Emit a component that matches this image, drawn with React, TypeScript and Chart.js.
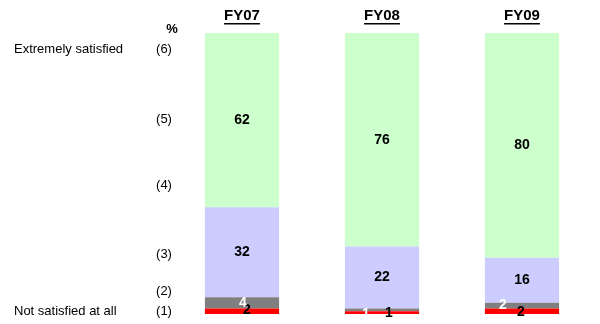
import React, { useEffect, useRef } from "react";
import { Chart, registerables } from "chart.js";

Chart.register(...registerables);

const categories = ["FY07", "FY08", "FY09"];
const notSatisfied = [2, 1, 2];
const lowSatisfied = [4, 1, 2];
const midSatisfied = [32, 22, 16];
const highSatisfied = [62, 76, 80];

const scaleLabels = ["(6)", "(5)", "(4)", "(3)", "(2)", "(1)"];
const scaleLabelValues = [94, 69.3, 45.6, 21.3, 8, 1];
const sideLabels = ["Extremely satisfied", "Not satisfied at all"];
const sideLabelValues = [94, 1];

// label offsets (pixels) for the tiny bottom segments
const grayDx = [1, -16, -19];
const grayDy = [0, 4, 0];
const redDx = [5, 7, -1];
const redDy = [-1, 1, 1];

const labelPlugin = {
  id: "labels",
  afterDraw(chart: any) {
    const ctx = chart.ctx;
    const y = chart.scales.y;
    const x = chart.scales.x;
    ctx.save();
    ctx.textBaseline = "middle";
    ctx.fillStyle = "#000";
    ctx.font = "13px 'Liberation Sans', Arial, sans-serif";
    ctx.textAlign = "center";
    scaleLabels.forEach((t, i) => {
      ctx.fillText(t, 164, y.getPixelForValue(scaleLabelValues[i]));
    });
    ctx.textAlign = "left";
    sideLabels.forEach((t, i) => {
      ctx.fillText(t, 14, y.getPixelForValue(sideLabelValues[i]));
    });
    ctx.textAlign = "center";
    ctx.font = "bold 13px 'Liberation Sans', Arial, sans-serif";
    ctx.fillText("%", 172, 29);
    ctx.font = "bold 15px 'Liberation Sans', Arial, sans-serif";
    categories.forEach((c, i) => {
      const cx = x.getPixelForValue(i);
      ctx.fillText(c, cx, 16);
      const w = ctx.measureText(c).width;
      ctx.fillRect(cx - w / 2, 23, w, 1.5);
    });
    ctx.font = "bold 14px 'Liberation Sans', Arial, sans-serif";
    chart.data.datasets.forEach((ds: any, di: number) => {
      const meta = chart.getDatasetMeta(di);
      meta.data.forEach((bar: any, i: number) => {
        const v = ds.data[i];
        let cx = bar.x;
        let cy = (bar.y + bar.base) / 2;
        if (di === 0) {
          ctx.fillStyle = "#000";
          cx += redDx[i];
          cy += redDy[i];
        } else if (di === 1) {
          ctx.fillStyle = "#fff";
          cx += grayDx[i];
          cy += grayDy[i];
        } else {
          ctx.fillStyle = "#000";
        }
        ctx.fillText(String(v), cx, cy);
      });
    });
    ctx.restore();
  },
};

export default function App() {
  const ref = useRef<HTMLCanvasElement>(null);
  useEffect(() => {
    const chart = new Chart(ref.current!, {
      type: "bar",
      data: {
        labels: categories,
        datasets: [
          { label: "1", data: notSatisfied, backgroundColor: "#FF0000" },
          { label: "2", data: lowSatisfied, backgroundColor: "#808080" },
          { label: "3", data: midSatisfied, backgroundColor: "#CCCCFF" },
          { label: "4", data: highSatisfied, backgroundColor: "#CCFFCC" },
        ],
      },
      options: {
        animation: false,
        responsive: true,
        maintainAspectRatio: false,
        layout: { padding: { left: 172, right: 8, top: 33, bottom: 10 } },
        datasets: { bar: { barPercentage: 0.53, categoryPercentage: 1 } },
        plugins: { legend: { display: false }, tooltip: { enabled: false } },
        scales: {
          x: { stacked: true, display: false },
          y: { stacked: true, display: false, min: 0, max: 100 },
        },
      },
      plugins: [labelPlugin],
    });
    return () => chart.destroy();
  }, []);
  return (
    <div style={{ position: "fixed", left: 0, top: 0, width: 600, height: 324, background: "#fff" }}>
      <canvas ref={ref} />
    </div>
  );
}
